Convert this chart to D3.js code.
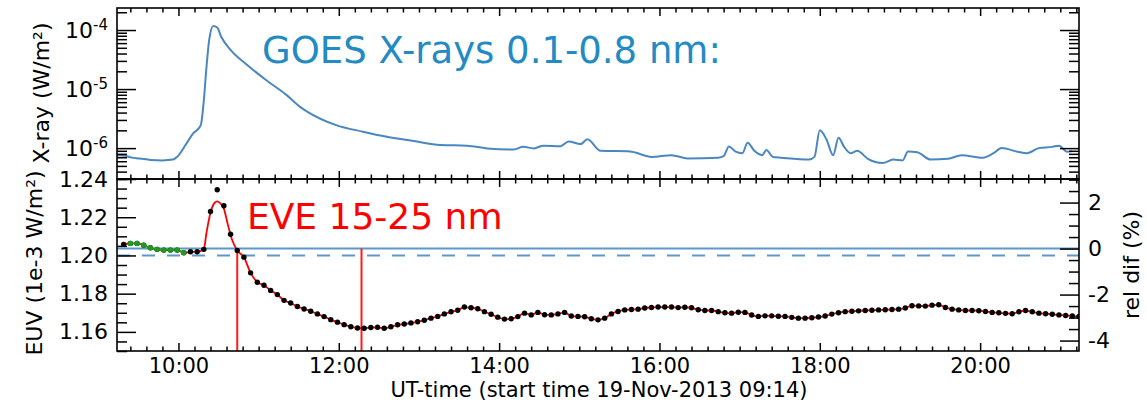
<!DOCTYPE html>
<html>
<head>
<meta charset="utf-8">
<script src="https://cdn.jsdelivr.net/npm/d3@7"></script>
<style>
	body { margin: 0; background: #fff; }
	svg text { font-family: "DejaVu Sans"; }
</style>
</head>
<body>
<svg id="chart" width="1147" height="404"></svg>
<script>
// --- data ---
var day = "2013-11-19";
var startTime = "09:14", endTime = "21:14";

// GOES 0.1-0.8 nm flux (W/m2)
var xrayTimes = ["09:14","09:20","09:25","09:31","09:39","09:48","09:56","09:59","10:06","10:11",
	"10:16","10:17","10:19","10:21","10:23","10:26","10:29","10:32","10:39","10:51",
	"11:06","11:21","11:31","11:36","11:58","12:18","12:36","12:56","13:16","13:36",
	"13:51","14:11","14:18","14:26","14:33","14:46","14:52","15:01","15:06","15:16",
	"15:38","15:42","15:54","16:09","16:21","16:44","16:48","16:52","16:57","17:02",
	"17:06","17:11","17:17","17:20","17:25","17:31","17:52","17:56","18:00","18:05",
	"18:10","18:14","18:18","18:23","18:28","18:36","18:47","18:55","19:02","19:06",
	"19:13","19:23","19:36","19:46","20:02","20:10","20:16","20:28","20:35","20:44",
	"20:54","20:59","21:05","21:09"];
var xrayFlux = [7.6e-7,7.4e-7,6.9e-7,6.7e-7,6.3e-7,6.2e-7,6.4e-7,7.1e-7,1.2e-6,1.78e-6,
	2.3e-6,2.6e-6,6.5e-6,2.4e-5,6.8e-5,1.17e-4,1.1e-4,7.7e-5,4.6e-5,2.6e-5,
	1.4e-5,7.9e-6,5.0e-6,4.2e-6,2.45e-6,1.9e-6,1.56e-6,1.32e-6,1.13e-6,1.1e-6,
	9.9e-7,9.5e-7,1.05e-6,9.9e-7,1.1e-6,1.08e-6,1.3e-6,1.17e-6,1.41e-6,9.0e-7,
	8.8e-7,8.4e-7,7.1e-7,7.6e-7,6.7e-7,6.9e-7,7.3e-7,1.07e-6,8.7e-7,8.2e-7,
	1.23e-6,9.0e-7,7.6e-7,9.3e-7,7.1e-7,6.9e-7,6.4e-7,7.1e-7,2.0e-6,1.4e-6,
	7.6e-7,1.5e-6,1.07e-6,8.2e-7,9.0e-7,6.6e-7,5.6e-7,6.4e-7,6.2e-7,8.8e-7,
	8.5e-7,6.4e-7,6.6e-7,7.6e-7,6.9e-7,8.2e-7,1.0e-6,8.7e-7,8.2e-7,1.0e-6,
	1.05e-6,1.1e-6,8.7e-7,8.9e-7];

// EVE 15-25 nm, one point every 5 min from 09:19 (1e-3 W/m2)
var euvFirstTime = "09:19";
var euvStepMin = 5;
var euvValues = [1.2058,1.2063,1.2063,1.2053,1.2040,1.2032,1.2028,1.2028,1.2028,1.2014,
	1.2019,1.2019,1.2032,1.2230,1.2344,1.2260,1.2111,1.2026,1.1991,1.1909,
	1.1860,1.1844,1.1817,1.1795,1.1765,1.1751,1.1733,1.1720,1.1708,1.1694,
	1.1680,1.1664,1.1651,1.1638,1.1627,1.1620,1.1619,1.1623,1.1624,1.1619,
	1.1627,1.1637,1.1641,1.1647,1.1653,1.1661,1.1672,1.1681,1.1694,1.1705,
	1.1713,1.1730,1.1726,1.1721,1.1706,1.1692,1.1677,1.1667,1.1669,1.1680,
	1.1698,1.1689,1.1702,1.1690,1.1689,1.1694,1.1702,1.1683,1.1681,1.1679,
	1.1669,1.1663,1.1672,1.1694,1.1707,1.1715,1.1717,1.1719,1.1725,1.1728,
	1.1730,1.1730,1.1730,1.1727,1.1729,1.1726,1.1716,1.1712,1.1712,1.1706,
	1.1700,1.1698,1.1703,1.1702,1.1688,1.1681,1.1684,1.1684,1.1682,1.1681,
	1.1676,1.1672,1.1672,1.1674,1.1678,1.1683,1.1693,1.1700,1.1706,1.1708,
	1.1710,1.1712,1.1713,1.1715,1.1716,1.1717,1.1719,1.1725,1.1737,1.1736,
	1.1735,1.1740,1.1742,1.1728,1.1719,1.1715,1.1712,1.1712,1.1711,1.1707,
	1.1702,1.1700,1.1697,1.1695,1.1705,1.1712,1.1705,1.1698,1.1695,1.1692,
	1.1689,1.1686,1.1683,1.1681];

// pre-flare points (green)
var preFlareTimes = ["09:24","09:29","09:34","09:39","09:44","09:49","09:54","09:59","10:04"];
var preFlareValues = [1.2063,1.2063,1.2053,1.2040,1.2032,1.2028,1.2028,1.2028,1.2014];

// smooth red fit over the flare peak
var fitPeakTimes = ["10:16","10:19","10:21","10:24","10:27","10:29","10:31","10:34","10:37","10:40"];
var fitPeakValues = [1.2022,1.2035,1.2120,1.2225,1.2275,1.2283,1.2275,1.2245,1.2160,1.2085];

var cutTimes = ["10:44", "12:17"];
var refLevel = 1.2036;   // 0 % on the rel dif axis
var dashLevel = 1.20;

var xrayRange = [3e-7, 2.36e-4];
var euvRange = [1.15, 1.24];
var hourTicks = ["10:00","12:00","14:00","16:00","18:00","20:00"];
var xrayMajorTicks = [1e-6, 1e-5, 1e-4];
var euvMajorTicks = [1.16, 1.18, 1.20, 1.22, 1.24];
var relMajorTicks = [-4, -2, 0, 2];

// --- drawing ---
var svg = d3.select("#chart");
var parseTime = d3.utcParse("%Y-%m-%d %H:%M");
function t(hm) { return parseTime(day + " " + hm); }

var L = 117, R = 1079, T = 8, M = 179, B = 351;

var x = d3.scaleUtc().domain([t(startTime), t(endTime)]).range([L, R]);
var yX = d3.scaleLog().domain(xrayRange).range([M, T]);
var yE = d3.scaleLinear().domain(euvRange).range([B, M]);
var yR = d3.scaleLinear()
	.domain(euvRange.map(function(v) { return (v / refLevel - 1) * 100; }))
	.range([B, M]);

var defs = svg.append("defs");
defs.append("clipPath").attr("id", "clipTop").append("rect")
	.attr("x", L).attr("y", T).attr("width", R - L).attr("height", M - T);
defs.append("clipPath").attr("id", "clipBot").append("rect")
	.attr("x", L).attr("y", M).attr("width", R - L).attr("height", B - M);

// GOES curve
var xrayData = xrayTimes.map(function(s, i) { return {t: t(s), v: xrayFlux[i]}; });
svg.append("path").datum(xrayData)
	.attr("clip-path", "url(#clipTop)")
	.attr("fill", "none").attr("stroke", "#4a87c0").attr("stroke-width", 2)
	.attr("d", d3.line().x(function(d) { return x(d.t); }).y(function(d) { return yX(d.v); })
		.curve(d3.curveMonotoneX));

// EVE panel
var gBot = svg.append("g").attr("clip-path", "url(#clipBot)");

gBot.append("line")
	.attr("x1", L).attr("x2", R).attr("y1", yE(refLevel)).attr("y2", yE(refLevel))
	.attr("stroke", "#5f97cc").attr("stroke-width", 2);
gBot.append("line")
	.attr("x1", L).attr("x2", R).attr("y1", yE(dashLevel)).attr("y2", yE(dashLevel))
	.attr("stroke", "#5f97cc").attr("stroke-width", 2).attr("stroke-dasharray", "13,12");

cutTimes.forEach(function(s) {
	gBot.append("line")
		.attr("x1", x(t(s))).attr("x2", x(t(s)))
		.attr("y1", yE(refLevel)).attr("y2", B)
		.attr("stroke", "#ff1a1a").attr("stroke-width", 2);
});

var euvData = euvValues.map(function(v, i) {
	return {t: d3.utcMinute.offset(t(euvFirstTime), i * euvStepMin), v: v};
});
var fitData = fitPeakTimes.map(function(s, i) { return {t: t(s), v: fitPeakValues[i]}; });
var fitStart = fitData[0].t, fitEnd = fitData[fitData.length - 1].t;
var redData = euvData.filter(function(d) { return d.t < fitStart; })
	.concat(fitData)
	.concat(euvData.filter(function(d) { return d.t > fitEnd; }));

var lineE = d3.line().x(function(d) { return x(d.t); }).y(function(d) { return yE(d.v); })
	.curve(d3.curveMonotoneX);

gBot.append("path").datum(redData)
	.attr("fill", "none").attr("stroke", "#ff0000").attr("stroke-width", 1.8).attr("d", lineE);

gBot.selectAll("circle.euv").data(euvData).enter().append("circle")
	.attr("class", "euv")
	.attr("cx", function(d) { return x(d.t); })
	.attr("cy", function(d) { return yE(d.v); })
	.attr("r", 2.7).attr("fill", "#000");

var greenData = preFlareTimes.map(function(s, i) { return {t: t(s), v: preFlareValues[i]}; });
gBot.append("path").datum(greenData)
	.attr("fill", "none").attr("stroke", "#1f9a1f").attr("stroke-width", 1.5).attr("d", lineE);
gBot.selectAll("circle.pre").data(greenData).enter().append("circle")
	.attr("class", "pre")
	.attr("cx", function(d) { return x(d.t); })
	.attr("cy", function(d) { return yE(d.v); })
	.attr("r", 2.7).attr("fill", "#1f9a1f");

// frames
[[T, M], [M, B]].forEach(function(p) {
	svg.append("rect").attr("x", L).attr("y", p[0]).attr("width", R - L).attr("height", p[1] - p[0])
		.attr("fill", "none").attr("stroke", "#000").attr("stroke-width", 1.6);
});

// ticks, all pointing inwards
function ticks(axisFn, scale, values, size, tx, ty, fmt, pad) {
	var ax = axisFn(scale).tickValues(values).tickSizeInner(-size).tickSizeOuter(0)
		.tickPadding(pad || 9)
		.tickFormat(fmt || function() { return ""; });
	var g = svg.append("g").attr("transform", "translate(" + tx + "," + ty + ")").call(ax);
	g.select(".domain").remove();
	g.selectAll("line").attr("stroke", "#000").attr("stroke-width", 1.5);
	g.selectAll("text").attr("font-family", "DejaVu Sans").attr("font-size", 22).attr("fill", "#000");
	return g;
}

var majorX = hourTicks.map(t);
var minorX = x.ticks(d3.utcMinute.every(12)).filter(function(d) { return d.getUTCMinutes() !== 0 || d.getUTCHours() % 2 === 1; });

[T, M].forEach(function(yy, i) {
	ticks(d3.axisTop, x, majorX, 8, 0, yy);
	ticks(d3.axisTop, x, minorX, 4.5, 0, yy);
	var gx = ticks(d3.axisBottom, x, majorX, 8, 0, i === 0 ? M : B, i === 0 ? null : d3.utcFormat("%H:%M"), 7);
	gx.selectAll("text").attr("font-size", 21);
	ticks(d3.axisBottom, x, minorX, 4.5, 0, i === 0 ? M : B);
});

// log axis
var xrayMinor = [];
[-7, -6, -5, -4].forEach(function(e) {
	for (var m = 2; m <= 9; m++) {
		var v = m * Math.pow(10, e);
		if (v >= xrayRange[0] && v <= xrayRange[1]) xrayMinor.push(v);
	}
});
var gLog = ticks(d3.axisLeft, yX, xrayMajorTicks, 19, L, 0, function() { return ""; });
gLog.selectAll(".tick text").each(function(d) {
	var el = d3.select(this);
	el.append("tspan").text("10");
	el.append("tspan").attr("dy", "-0.5em").attr("font-size", 15).text(Math.round(Math.log10(d)));
});
ticks(d3.axisLeft, yX, xrayMinor, 10, L, 0);
ticks(d3.axisRight, yX, xrayMajorTicks, 19, R, 0);
ticks(d3.axisRight, yX, xrayMinor, 10, R, 0);

// EUV axis
var euvMinor = d3.range(230, 249).map(function(k) { return k * 0.005; })
	.filter(function(v) { return Math.abs(v * 50 - Math.round(v * 50)) > 1e-6; });
ticks(d3.axisLeft, yE, euvMajorTicks, 19, L, 0, d3.format(".2f"));
ticks(d3.axisLeft, yE, euvMinor, 10, L, 0);

// rel dif axis
var relDom = yR.domain();
var relMinor = d3.range(-10, 8).map(function(k) { return k * 0.5; })
	.filter(function(v) { return v >= relDom[0] && v <= relDom[1] && v % 2 !== 0; });
ticks(d3.axisRight, yR, relMajorTicks, 19, R, 0, function(d) { return String(d); });
ticks(d3.axisRight, yR, relMinor, 10, R, 0);

// axis titles
svg.append("text").attr("transform", "translate(49,93) rotate(-90)")
	.attr("text-anchor", "middle").attr("font-size", 22).text("X-ray (W/m²)");
svg.append("text").attr("transform", "translate(42,263) rotate(-90)")
	.attr("text-anchor", "middle").attr("font-size", 22).text("EUV (1e-3 W/m²)");
svg.append("text").attr("transform", "translate(1139,265) rotate(-90)")
	.attr("text-anchor", "middle").attr("font-size", 22).text("rel dif (%)");
svg.append("text").attr("x", (L + R) / 2 + 1).attr("y", 397)
	.attr("text-anchor", "middle").attr("font-size", 21)
	.text("UT-time (start time 19-Nov-2013 09:14)");

// panel titles
svg.append("text").attr("x", 262).attr("y", 63)
	.attr("font-family", "Liberation Sans").attr("font-size", 37).attr("fill", "#238bc3")
	.text("GOES X-rays 0.1-0.8 nm:");
svg.append("text").attr("x", 247).attr("y", 228.5)
	.attr("font-family", "Liberation Sans").attr("font-size", 36).attr("fill", "#ff0000")
	.text("EVE 15-25 nm");
</script>
</body>
</html>
